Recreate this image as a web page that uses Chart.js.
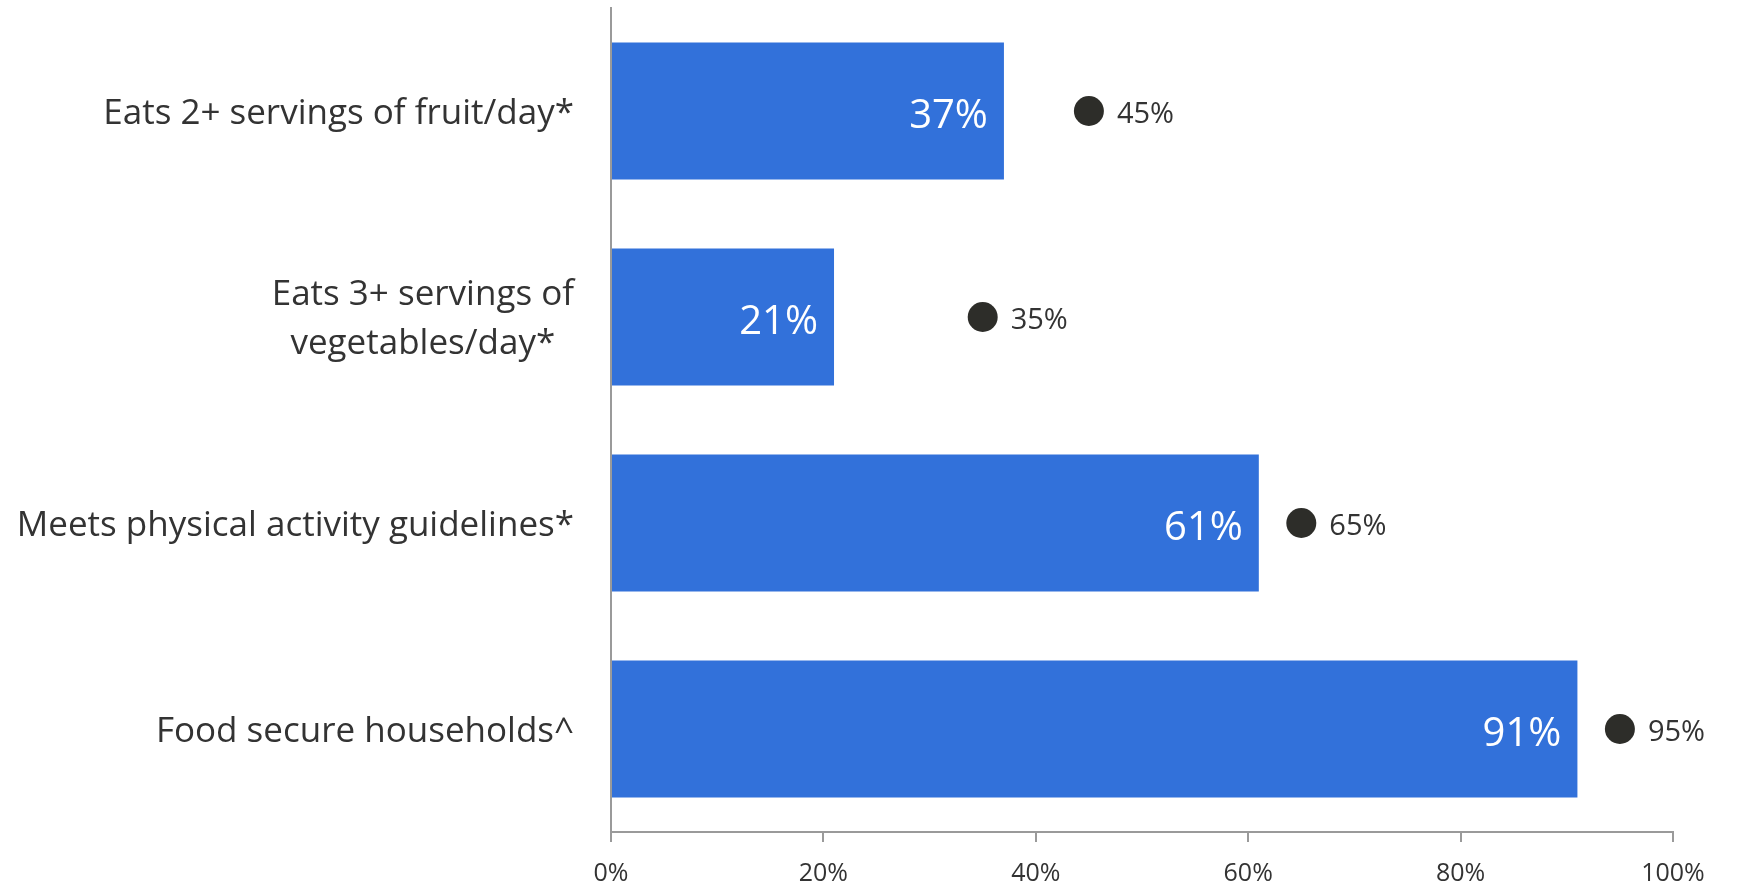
<!DOCTYPE html>
<html>
<head>
<meta charset="utf-8">
<script src="https://cdn.jsdelivr.net/npm/chart.js@4/dist/chart.umd.min.js"></script>
<style>
  html, body { margin: 0; padding: 0; background: #fff; }
  #wrap { width: 1743px; height: 885px; }
</style>
</head>
<body>
<div id="wrap"><canvas id="healthChart"></canvas></div>
<script>
const categories = [
  ["Eats 2+ servings of fruit/day*"],
  ["Eats 3+ servings of", "vegetables/day*"],
  ["Meets physical activity guidelines*"],
  ["Food secure households^"]
];
const barValues = [37, 21, 61, 91];
const markerValues = [45, 35, 65, 95];
const xTicks = [0, 20, 40, 60, 80, 100];

const FONT = "'Open Sans', 'Noto Sans', sans-serif";
const TEXT = "#333333";
const AXIS = "#9a9a9a";

// value labels on bars and next to the dots
const valueLabels = {
  id: "valueLabels",
  afterDatasetsDraw(chart) {
    const ctx = chart.ctx;
    ctx.save();
    ctx.textBaseline = "middle";
    chart.getDatasetMeta(0).data.forEach((el, i) => {
      ctx.fillStyle = "#ffffff";
      ctx.font = "40px " + FONT;
      ctx.textAlign = "right";
      ctx.fillText(barValues[i] + "%", el.x - 16, el.y + 6);
    });
    chart.getDatasetMeta(1).data.forEach((el, i) => {
      ctx.fillStyle = TEXT;
      ctx.font = "29px " + FONT;
      ctx.textAlign = "left";
      ctx.fillText(markerValues[i] + "%", el.x + 28, el.y + 4);
    });
    ctx.restore();
  }
};

// category labels, lines centred within a right-aligned block
const categoryLabels = {
  id: "categoryLabels",
  afterDraw(chart) {
    const ctx = chart.ctx;
    const y = chart.scales.y;
    const right = chart.chartArea.left - 37;
    const lh = 49;
    ctx.save();
    ctx.font = "35px " + FONT;
    ctx.fillStyle = TEXT;
    ctx.textBaseline = "middle";
    ctx.textAlign = "center";
    categories.forEach((lines, i) => {
      const cy = y.getPixelForTick(i) + 3;
      const w = Math.max(...lines.map(l => ctx.measureText(l).width));
      const cx = right - w / 2;
      lines.forEach((l, k) => {
        ctx.fillText(l, cx, cy + (k - (lines.length - 1) / 2) * lh);
      });
    });
    ctx.restore();
  }
};

new Chart(document.getElementById("healthChart"), {
  data: {
    labels: categories,
    datasets: [
      {
        type: "bar",
        data: barValues,
        backgroundColor: "#3271da",
        borderWidth: 0,
        barPercentage: 0.665,
        categoryPercentage: 1,
        order: 1
      },
      {
        type: "line",
        indexAxis: "y",
        data: markerValues,
        showLine: false,
        pointRadius: 15,
        pointHoverRadius: 15,
        pointBackgroundColor: "#2d2d29",
        pointBorderWidth: 0,
        order: 0
      }
    ]
  },
  plugins: [valueLabels, categoryLabels],
  options: {
    indexAxis: "y",
    responsive: true,
    maintainAspectRatio: false,
    animation: false,
    layout: { autoPadding: false, padding: { top: 8, right: 70, bottom: 0, left: 0 } },
    plugins: {
      legend: { display: false },
      tooltip: { enabled: false }
    },
    scales: {
      x: {
        min: 0,
        max: 100,
        afterBuildTicks: (scale) => { scale.ticks = xTicks.map(v => ({ value: v })); },
        afterFit: (scale) => { scale.height = 53; },
        border: { display: true, color: AXIS, width: 2 },
        grid: { drawOnChartArea: false, drawTicks: true, tickLength: 10, color: AXIS, lineWidth: 2 },
        ticks: {
          padding: 17,
          color: TEXT,
          font: { family: FONT, size: 25 },
          callback: (v) => v + "%"
        }
      },
      y: {
        type: "category",
        border: { display: true, color: AXIS, width: 2 },
        grid: { display: false },
        ticks: { display: false },
        afterFit: (scale) => { scale.width = 611; }
      }
    }
  }
});
</script>
</body>
</html>
